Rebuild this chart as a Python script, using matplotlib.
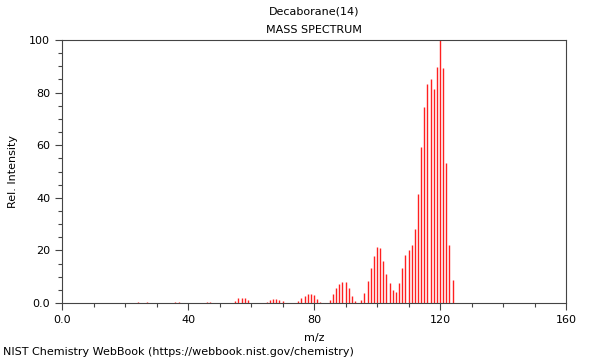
import matplotlib
matplotlib.use("Agg")
import matplotlib.pyplot as plt
from matplotlib.ticker import MultipleLocator, FixedLocator, FixedFormatter

# m/z values and relative intensities
mz = [24, 27, 36, 37, 46, 47,
      55, 56, 57, 58, 59,
      65, 66, 67, 68, 69, 70,
      75, 76, 77, 78, 79, 80, 81, 82,
      85, 86, 87, 88, 89, 90, 91, 92, 93,
      95, 96, 97, 98, 99, 100, 101, 102, 103, 104, 105, 106, 107, 108,
      109, 110, 111, 112, 113, 114, 115, 116, 117, 118, 119, 120, 121,
      122, 123, 124]
intensity = [0.3, 0.4, 0.3, 0.4, 0.5, 0.4,
             0.9, 1.9, 1.9, 1.9, 1.3,
             0.5, 1.0, 1.5, 1.5, 1.2, 0.6,
             0.9, 1.9, 2.8, 3.3, 3.3, 2.9, 1.5, 0.5,
             1.1, 3.4, 5.7, 7.4, 8.0, 8.0, 5.8, 2.7, 0.6,
             1.1, 3.7, 8.4, 13.4, 17.9, 21.4, 20.8, 16.0, 11.0, 7.5, 4.9, 4.3, 7.5, 13.4,
             18.3, 20.3, 22.0, 28.1, 41.4, 59.3, 74.5, 83.1, 85.2, 81.4, 89.6, 100.0, 89.4,
             53.1, 22.0, 8.6]

x_ticks = [0, 40, 80, 120, 160]
x_tick_labels = ["0.0", "40", "80", "120", "160"]
y_ticks = [0, 20, 40, 60, 80, 100]
y_tick_labels = ["0.0", "20", "40", "60", "80", "100"]

fig = plt.figure(figsize=(6, 3.6), dpi=100)
ax = fig.add_axes([62 / 600, 57 / 360, 504 / 600, 263 / 360])

ax.vlines(mz, 0, intensity, colors="#ff2020", linewidth=1.0)

ax.set_xlim(0, 160)
ax.set_ylim(0, 100)

ax.xaxis.set_major_locator(FixedLocator(x_ticks))
ax.xaxis.set_major_formatter(FixedFormatter(x_tick_labels))
ax.xaxis.set_minor_locator(MultipleLocator(10))
ax.yaxis.set_major_locator(FixedLocator(y_ticks))
ax.yaxis.set_major_formatter(FixedFormatter(y_tick_labels))
ax.yaxis.set_minor_locator(MultipleLocator(5))

ax.tick_params(which="major", length=5, width=0.8, color="#444444", labelsize=8)
ax.tick_params(which="minor", length=3, width=0.8, color="#444444")
for s in ax.spines.values():
    s.set_color("#444444")
    s.set_linewidth(0.8)

ax.set_xlabel("m/z", fontsize=8, labelpad=6)
ax.set_ylabel("Rel. Intensity", fontsize=8, labelpad=8)

fig.text(314 / 600, 1 - 12 / 360, "Decaborane(14)", ha="center", va="center", fontsize=8)
fig.text(314 / 600, 1 - 30 / 360, "MASS SPECTRUM", ha="center", va="center", fontsize=8)
fig.text(3 / 600, 1 - 352 / 360, "NIST Chemistry WebBook (https://webbook.nist.gov/chemistry)",
         ha="left", va="center", fontsize=8)

fig.savefig("out.png", dpi=100)
